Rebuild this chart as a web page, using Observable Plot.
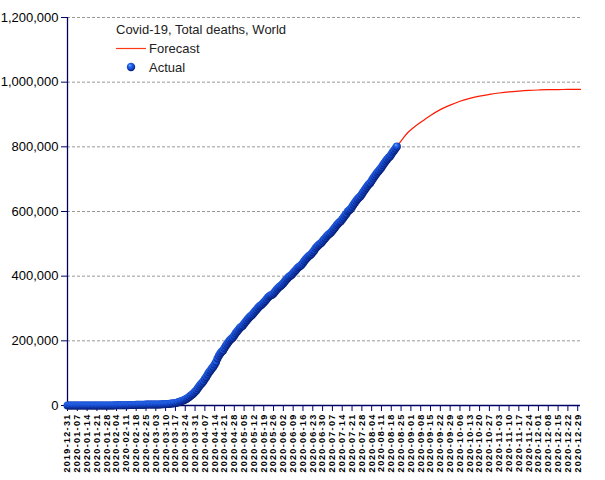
<!DOCTYPE html>
<html><head><meta charset="utf-8">
<script src="https://cdn.jsdelivr.net/npm/d3@7"></script>
<script src="https://cdn.jsdelivr.net/npm/@observablehq/plot@0.6"></script>
<style>body{margin:0;background:#fff}</style>
</head><body><div id="chart"></div>
<script>
// ---- data ----
const startDate = "2019-12-31";
const deathsDec = [0];
const deathsJan = [0,0,0,0,0,0,0,0,0,0,1,1,1,1,2,2,2,3,3,4,6,17,18,26,42,56,82,131,133,171,213];
const deathsFeb = [259,362,426,492,564,634,719,806,906,1013,1113,1118,1371,1523,1666,1770,1868,2007,2122,2247,2251,2458,2469,2629,2708,2770,2814,2872,2941];
const deathsMar = [2996,3085,3160,3254,3348,3460,3558,3802,3988,4262,4615,4720,5404,5819,6440,7126,7905,8733,9867,11299,12973,14623,16497,18615,21181,23970,27324,30879,34065,37780,42299];
const deathsApr = [47208,53167,59172,64606,69498,74654,81937,88338,95693,102525,108502,114090,119482,126681,134176,145521,153822,160757,165939,170456,177640,184643,191061,197242,202844,206544,210267,216532,223127,228853];
const deathsMay = [234098,239528,243401,246893,252784,258367,263990,269348,273825,277523,281141,286697,291957,297220,302493,307172,310260,313722,318532,323380,328465,333635,338187,341348,342869,346665,351957,357075,362209,366589,369829];
const deathsJun = [373214,377881,383377,388588,393843,398202,401290,404746,409617,414553,419454,424165,428641,431789,435101,440449,446911,452216,456750,461321,465015,468664,474165,479542,486109,491036,495573,499170,502740,508055];
const deathsJul = [513117,518173,523201,527802,531288,534937,540619,546258,551669,557160,562302,566421,570174,575868,581584,587319,593108,600148,604075,608027,614000,620845,627011,633330,638735,643117,647108,653582,660342,666696,672938];
const deathsAug = [679040,684001,688453,694836,701724,708467,714641,720423,725438,730312,736323,742828,749186,755230,761141,766002,769939,776397,782988,789044,794907,800906];

const forecastDates = ["2020-08-22","2020-08-26","2020-08-30","2020-09-03","2020-09-08","2020-09-15","2020-09-22","2020-09-29","2020-10-06","2020-10-13","2020-10-20","2020-10-27","2020-11-03","2020-11-10","2020-11-17","2020-11-24","2020-12-01","2020-12-08","2020-12-15","2020-12-22","2020-12-31"];
const forecastDeaths = [800906,824000,845000,860000,876000,897000,915000,929000,941000,950000,957000,962000,966500,970000,972500,974500,975800,976700,977200,977500,977600];

const xTickLabels = ["2019-12-31","2020-01-07","2020-01-14","2020-01-21","2020-01-28","2020-02-04","2020-02-11","2020-02-18","2020-02-25","2020-03-03","2020-03-10","2020-03-17","2020-03-24","2020-03-31","2020-04-07","2020-04-14","2020-04-21","2020-04-28","2020-05-05","2020-05-12","2020-05-19","2020-05-26","2020-06-02","2020-06-09","2020-06-16","2020-06-23","2020-06-30","2020-07-07","2020-07-14","2020-07-21","2020-07-28","2020-08-04","2020-08-11","2020-08-18","2020-08-25","2020-09-01","2020-09-08","2020-09-15","2020-09-22","2020-09-29","2020-10-06","2020-10-13","2020-10-20","2020-10-27","2020-11-03","2020-11-10","2020-11-17","2020-11-24","2020-12-01","2020-12-08","2020-12-15","2020-12-22","2020-12-29"];
const yTicks = [0,200000,400000,600000,800000,1000000,1200000];
const xDomain = ["2019-12-31","2020-12-31"];
const titleText = "Covid-19, Total deaths, World";
const legendLabels = ["Forecast","Actual"];

// ---- build ----
const parse = d3.utcParse("%Y-%m-%d");
const t0 = parse(startDate);
const actualDeaths = [].concat(deathsDec,deathsJan,deathsFeb,deathsMar,deathsApr,deathsMay,deathsJun,deathsJul,deathsAug);
const actual = actualDeaths.map((v,i)=>({date:d3.utcDay.offset(t0,i), deaths:v}));
const forecast = forecastDates.map((d,i)=>({date:parse(d), deaths:forecastDeaths[i]}));
const xTicks = xTickLabels.map(parse);
const navy = "#000066";

const plot = Plot.plot({
  width:605, height:480,
  marginLeft:67, marginRight:25, marginTop:17, marginBottom:75,
  style:{fontFamily:"'Liberation Sans', Arial, sans-serif", background:"#fff", overflow:"visible"},
  x:{type:"utc", domain:xDomain.map(parse), label:null},
  y:{domain:[0,1200000], label:null},
  marks:[
    Plot.gridY(yTicks,{stroke:"#999", strokeOpacity:1, strokeDasharray:"3,2"}),
    Plot.axisY(yTicks,{tickFormat:d3.format(","), tickSize:6, tickPadding:3, fontSize:13, stroke:navy, fill:"black", label:null}),
    Plot.axisX(xTicks,{tickRotate:-90, tickFormat:d3.utcFormat("%Y-%m-%d"), tickSize:6, tickPadding:2, fontSize:9, fontWeight:"bold", fontFamily:"'Liberation Sans', Arial, sans-serif", stroke:navy, fill:"black", label:null}),
    Plot.ruleX([t0],{stroke:navy, strokeWidth:1.3}),
    Plot.ruleY([0],{stroke:navy, strokeWidth:1.3}),
    Plot.line(forecast,{x:"date", y:"deaths", stroke:"#ff1a00", strokeWidth:1.2, curve:"monotone-x"}),
    Plot.dot(actual,{x:"date", y:"deaths", r:4, fill:"url(#ball)", stroke:"none"})
  ]
});
document.getElementById("chart").appendChild(plot);

const svg = d3.select(plot);
// letter spacing for the rotated date labels
svg.selectAll("text").filter(function(){ return /^\d{4}-\d\d-\d\d$/.test(this.textContent); })
  .attr("letter-spacing", "1.3px").style("letter-spacing", "1.3px");
const defs = svg.insert("defs",":first-child");
const g = defs.append("radialGradient").attr("id","ball")
  .attr("cx","45%").attr("cy","40%").attr("r","60%").attr("fx","35%").attr("fy","30%");
g.append("stop").attr("offset","0%").attr("stop-color","#7ab0ff");
g.append("stop").attr("offset","30%").attr("stop-color","#2a6cf0");
g.append("stop").attr("offset","65%").attr("stop-color","#1448cc");
g.append("stop").attr("offset","100%").attr("stop-color","#061a70");

const lg = svg.append("g").attr("font-family","'Liberation Sans', Arial, sans-serif").attr("font-size",13).attr("fill","#222").attr("text-anchor","start");
lg.append("text").attr("x",116).attr("y",34).text(titleText);
lg.append("line").attr("x1",116).attr("x2",146).attr("y1",48.5).attr("y2",48.5).attr("stroke","#ff3a10").attr("stroke-width",1.2);
lg.append("text").attr("x",149).attr("y",53).text(legendLabels[0]);
lg.append("circle").attr("cx",131).attr("cy",67).attr("r",4.2).attr("fill","url(#ball)");
lg.append("text").attr("x",149).attr("y",71.5).text(legendLabels[1]);
</script>
</body></html>
